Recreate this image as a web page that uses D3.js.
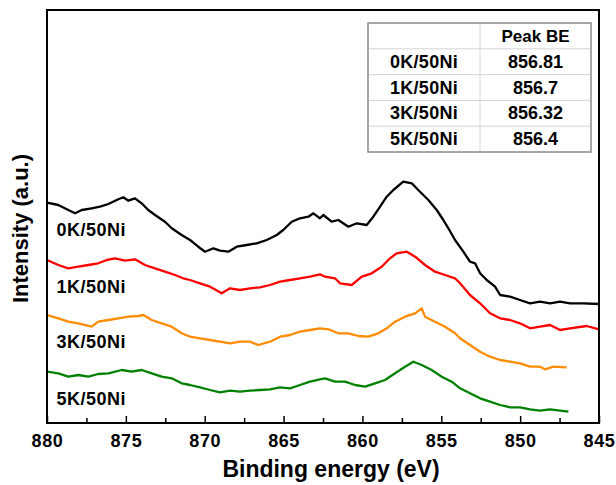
<!DOCTYPE html>
<html>
<head>
<meta charset="utf-8">
<script src="https://cdn.jsdelivr.net/npm/d3@7"></script>
<style>
  body { margin: 0; background: #fff; }
  svg text { font-family: Arial, "Liberation Sans", sans-serif; font-weight: bold; fill: #000; }
</style>
</head>
<body>
<script>
// sample names and peak positions (table)
var samples = ["0K/50Ni", "1K/50Ni", "3K/50Ni", "5K/50Ni"];
var peakBE = ["856.81", "856.7", "856.32", "856.4"];
var colors = ["#000000", "#ff0000", "#ff8c00", "#008000"];

var xTicks = [880, 875, 870, 865, 860, 855, 850, 845];
var xMinor = [877.5, 872.5, 867.5, 862.5, 857.5, 852.5, 847.5];

// spectra: [binding energy (eV), intensity (a.u., offset stacked)]
var curve0K = [[880, 220.3], [879.28, 218], [878.65, 213], [878.22, 209.7], [877.8, 213], [877.17, 214.7],
  [876.64, 216.3], [876.11, 219], [875.48, 223.7], [875.16, 225.7], [874.84, 222.3], [874.42, 224.7],
  [874, 219.7], [873.58, 213], [873.15, 208], [872.52, 201.3], [872.09, 194.7], [871.46, 188],
  [870.93, 183], [870.41, 176.3], [869.98, 171.3], [869.45, 174.7], [869.03, 172.3], [868.5, 171.3],
  [867.97, 176.3], [867.34, 178], [866.7, 179.7], [866.07, 183], [865.43, 188], [865.02, 193],
  [864.48, 201.3], [863.96, 204.7], [863.43, 206.3], [863.11, 209.7], [862.69, 204.7], [862.48, 208],
  [861.95, 201.3], [861.53, 203], [860.89, 196.3], [860.36, 199.7], [859.73, 198], [859.31, 206.3],
  [858.88, 216.3], [858.46, 226.3], [858.04, 233], [857.41, 241.3], [856.87, 239.7], [856.46, 233],
  [855.82, 223], [855.29, 213], [854.87, 203], [854.55, 194.7], [854.13, 183], [853.6, 171.3],
  [853.18, 161.3], [852.86, 159.7], [852.54, 149.7], [852.12, 143], [851.59, 136.3], [851.27, 128],
  [850.64, 126.3], [850.01, 123], [849.37, 119.7], [848.74, 121.3], [848.1, 119.7], [847.47, 121.3],
  [846.84, 119.7], [845.99, 119.7], [845, 119]];

var curve1K = [[880, 163], [879.28, 158], [878.65, 154.7], [878.02, 156.3], [877.38, 158], [876.75, 159.7],
  [876.21, 163], [875.69, 164.7], [875.05, 162.3], [874.42, 163.7], [873.79, 158], [873.15, 154.7],
  [872.52, 151.3], [871.88, 148], [871.36, 144.7], [870.93, 143], [870.3, 139.7], [869.66, 136.3],
  [868.92, 129.7], [868.4, 134.7], [867.76, 133], [867.13, 134.7], [866.49, 135.7], [865.86, 138],
  [865.22, 141.3], [864.59, 143], [863.96, 144.7], [863.32, 146.3], [862.69, 148.7], [862.37, 146.3],
  [861.74, 144.7], [861.42, 139.7], [860.68, 138], [860.04, 146.3], [859.41, 149.7], [858.78, 156.3],
  [858.25, 164.7], [857.83, 169.7], [857.19, 171.3], [856.66, 166.3], [856.03, 158], [855.4, 151.3],
  [854.76, 148], [854.13, 144.7], [853.81, 139.7], [853.18, 128], [852.54, 119.7], [851.91, 109.7],
  [851.27, 104.7], [850.64, 103], [850.01, 99.7], [849.37, 94.7], [848.74, 96.3], [848.1, 98],
  [847.47, 93], [846.84, 94.7], [845.78, 97], [845, 93.7]];

var curve3K = [[880, 108], [879.28, 104.7], [878.65, 101.3], [878.02, 99.7], [877.17, 96.3], [876.75, 101.3],
  [876.11, 103], [875.48, 104.7], [874.84, 106.3], [874.21, 107], [873.89, 108], [873.36, 103],
  [872.73, 99.7], [872.09, 96.3], [871.46, 89.7], [870.93, 86.3], [870.3, 84.7], [869.66, 83],
  [869.03, 81.3], [868.4, 79.7], [867.76, 81.3], [867.13, 81.3], [866.6, 78], [865.86, 81.3],
  [865.22, 86.3], [864.59, 88], [863.96, 91.3], [863.32, 93], [862.69, 94.7], [862.16, 93.7],
  [861.53, 89.7], [860.89, 89.7], [860.26, 87], [859.63, 86.3], [858.99, 89.7], [858.46, 94.7],
  [857.93, 101.3], [857.3, 106.3], [856.66, 109.7], [856.24, 114.7], [856.03, 106.3], [855.4, 101.3],
  [854.76, 96.3], [854.13, 89.7], [853.81, 84.7], [853.18, 78], [852.54, 71.3], [851.91, 66.3],
  [851.27, 63], [850.64, 61.3], [850.01, 59.7], [849.37, 56.3], [848.74, 56.3], [848.42, 53.7],
  [847.89, 56.3], [847.05, 55.7]];

var curve5K = [[880, 51.3], [879.28, 49.7], [878.65, 46.3], [878.02, 48], [877.38, 46.3], [876.75, 49],
  [876.11, 49.7], [875.26, 53], [874.63, 51.3], [874, 53], [873.36, 49.7], [872.73, 46.3],
  [872.09, 44.7], [871.46, 39.7], [870.93, 38], [870.3, 35.7], [869.66, 33], [869.03, 30.7],
  [868.4, 32.3], [867.76, 31.3], [867.13, 32.3], [866.49, 33], [865.86, 33.7], [865.22, 35.7],
  [864.59, 34.7], [863.96, 38], [863.32, 41.3], [862.69, 43.7], [862.37, 44.7], [861.74, 41.3],
  [861.1, 41.3], [860.47, 38], [859.83, 36.3], [859.2, 39.7], [858.57, 43], [857.93, 49.7],
  [857.3, 56.3], [856.77, 61.3], [856.24, 58], [855.61, 53], [854.97, 46.3], [854.34, 41.3],
  [853.81, 34.7], [853.18, 29.7], [852.54, 24.7], [851.91, 21.3], [851.27, 18], [850.64, 15.7],
  [850.01, 15.7], [849.37, 13.7], [848.74, 12.3], [848.1, 13.7], [847.47, 12.3], [846.94, 11.3]];

var curves = [curve0K, curve1K, curve3K, curve5K];

var W = 616, H = 485;
var margin = { top: 10, right: 17, bottom: 62, left: 47 };

var svg = d3.select("body").append("svg")
    .attr("width", W)
    .attr("height", H);

var x = d3.scaleLinear().domain([880, 845]).range([margin.left, W - margin.right]);
var y = d3.scaleLinear().domain([0, 413]).range([H - margin.bottom, margin.top]);

// spectra
var line = d3.line()
    .x(function (d) { return x(d[0]); })
    .y(function (d) { return y(d[1]); });

svg.selectAll(".spec")
    .data(curves)
    .enter().append("path")
      .attr("class", "spec")
      .attr("d", line)
      .attr("fill", "none")
      .attr("stroke", function (d, i) { return colors[i]; })
      .attr("stroke-width", 2.3)
      .attr("stroke-linejoin", "round");

// sample labels under each curve
svg.selectAll(".lab")
    .data(samples)
    .enter().append("text")
      .attr("class", "lab")
      .attr("x", x(879.4))
      .attr("y", function (d, i) { return y(curves[i][0][1]) + 33; })
      .attr("font-size", 18)
      .attr("letter-spacing", 0.5)
      .text(function (d) { return d; });

// x axis: major + minor ticks, pointing in
var xAxis = d3.axisBottom(x)
    .tickValues(xTicks)
    .tickSize(-7)
    .tickPadding(11)
    .tickFormat(d3.format("d"));

var gx = svg.append("g")
    .attr("transform", "translate(0," + (H - margin.bottom) + ")")
    .call(xAxis);
gx.select(".domain").remove();
gx.selectAll("line").attr("stroke", "#000").attr("stroke-width", 1.5);
gx.selectAll("text")
    .attr("font-size", 18)
    .attr("letter-spacing", 0.6)
    .style("font-family", "Arial, 'Liberation Sans', sans-serif")
    .style("font-weight", "bold")
    .attr("fill", "#000");

var gm = svg.append("g")
    .attr("transform", "translate(0," + (H - margin.bottom) + ")")
    .call(d3.axisBottom(x).tickValues(xMinor).tickSize(-5).tickFormat(""));
gm.select(".domain").remove();
gm.selectAll("line").attr("stroke", "#000").attr("stroke-width", 1.5);

// frame
svg.append("rect")
    .attr("x", margin.left)
    .attr("y", margin.top)
    .attr("width", W - margin.left - margin.right)
    .attr("height", H - margin.top - margin.bottom)
    .attr("fill", "none")
    .attr("stroke", "#000")
    .attr("stroke-width", 2);

// axis titles
svg.append("text")
    .attr("x", 331)
    .attr("y", 477)
    .attr("text-anchor", "middle")
    .attr("font-size", 23)
    .text("Binding energy (eV)");

svg.append("text")
    .attr("transform", "translate(28," + ((margin.top + H - margin.bottom) / 2 + 12) + ") rotate(-90)")
    .attr("text-anchor", "middle")
    .attr("font-size", 22)
    .text("Intensity (a.u.)");

// table with peak binding energies
var tbl = { x0: 368, x1: 591, y0: 23, y1: 152, split: 480 };
var rows = d3.scaleBand()
    .domain(d3.range(samples.length + 1))
    .range([tbl.y0, tbl.y1]);

var gt = svg.append("g");
gt.append("rect")
    .attr("x", tbl.x0).attr("y", tbl.y0)
    .attr("width", tbl.x1 - tbl.x0).attr("height", tbl.y1 - tbl.y0)
    .attr("fill", "#fff")
    .attr("stroke", "#8a8a8a")
    .attr("stroke-width", 1.5);

gt.selectAll(".rowline")
    .data(d3.range(1, samples.length + 1))
    .enter().append("line")
      .attr("x1", tbl.x0 + 1).attr("x2", tbl.x1 - 1)
      .attr("y1", function (d) { return rows(d); })
      .attr("y2", function (d) { return rows(d); })
      .attr("stroke", "#d4d4d4")
      .attr("stroke-width", 1);

gt.append("line")
    .attr("x1", tbl.split).attr("x2", tbl.split)
    .attr("y1", tbl.y0 + 1).attr("y2", tbl.y1 - 1)
    .attr("stroke", "#d4d4d4")
    .attr("stroke-width", 1);

gt.append("text")
    .attr("x", (tbl.split + tbl.x1) / 2)
    .attr("y", rows(0) + rows.bandwidth() / 2 + 6)
    .attr("text-anchor", "middle")
    .attr("font-size", 17)
    .text("Peak BE");

gt.selectAll(".tname")
    .data(samples)
    .enter().append("text")
      .attr("x", (tbl.x0 + tbl.split) / 2)
      .attr("y", function (d, i) { return rows(i + 1) + rows.bandwidth() / 2 + 6; })
      .attr("text-anchor", "middle")
      .attr("font-size", 18)
      .attr("letter-spacing", 0.3)
      .text(function (d) { return d; });

gt.selectAll(".tval")
    .data(peakBE)
    .enter().append("text")
      .attr("x", (tbl.split + tbl.x1) / 2)
      .attr("y", function (d, i) { return rows(i + 1) + rows.bandwidth() / 2 + 6; })
      .attr("text-anchor", "middle")
      .attr("font-size", 18)
      .text(function (d) { return d; });
</script>
</body>
</html>
